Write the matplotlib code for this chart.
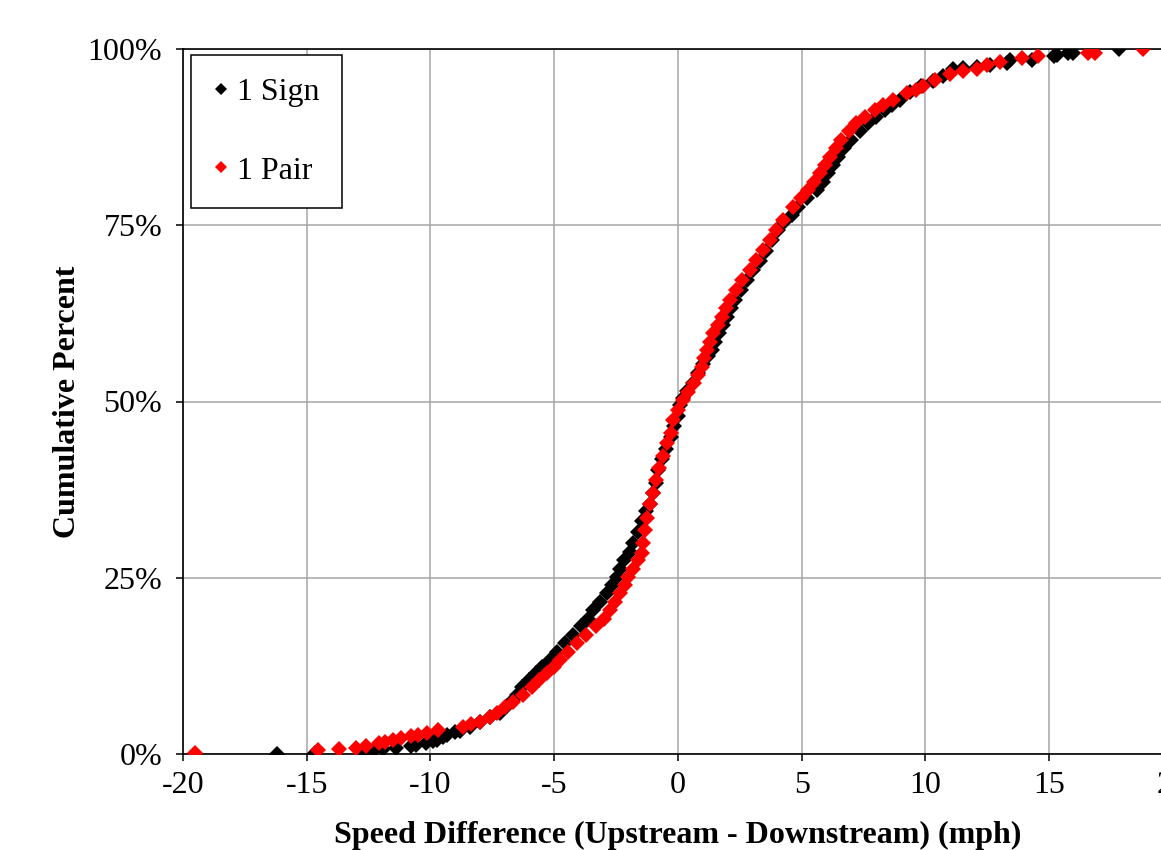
"""Cumulative distribution of speed difference, 1 Sign vs 1 Pair."""

import matplotlib

matplotlib.use("Agg")
import matplotlib.pyplot as plt
from matplotlib.ticker import PercentFormatter

# 1 Sign (black): speed difference (mph) and cumulative percent
sign_x = [
    -16.2, -14.67, -12.7, -12.3, -11.9, -11.4, -10.8, -10.6, -10.2, -9.9,
    -9.75, -9.5, -9.35, -9.0, -8.8, -8.4, -8.0, -7.6, -7.2, -6.9,
    -6.67, -6.5, -6.3, -6.0, -5.75, -5.5, -5.17, -4.9, -4.57, -4.25,
    -3.9, -3.65, -3.42, -3.15, -2.88, -2.68, -2.48, -2.35, -2.2, -1.94,
    -1.8, -1.6, -1.45, -1.3, -1.13, -1.0, -0.9, -0.8, -0.65, -0.5,
    -0.3, -0.15, 0.0, 0.1, 0.2, 0.35, 0.6, 0.8, 1.0, 1.2,
    1.36, 1.5, 1.65, 1.8, 1.97, 2.15, 2.3, 2.55, 2.8, 3.05,
    3.3, 3.55, 3.8, 4.05, 4.3, 4.6, 4.85, 5.2, 5.6, 5.85,
    6.06, 6.25, 6.46, 6.7, 7.0, 7.35, 7.68, 8.0, 8.36, 8.65,
    8.97, 9.37, 9.8, 10.3, 10.7, 11.1, 11.5, 12.07, 12.6, 13.28,
    13.4, 14.3, 15.2, 15.3, 15.76, 15.96, 17.8,
]
sign_pct = [
    0.0, 0.1, 0.3, 0.55, 0.75, 0.9, 1.1, 1.3, 1.55, 1.8,
    2.0, 2.4, 2.7, 3.1, 3.3, 3.9, 4.6, 5.2, 5.8, 6.8,
    7.7, 8.4, 9.5, 10.5, 11.5, 12.4, 13.3, 14.5, 15.7, 16.9,
    18.1, 19.2, 20.4, 21.6, 22.8, 24.0, 25.1, 26.3, 27.5, 28.7,
    30.0, 31.5, 33.0, 34.5, 35.5, 37.0, 38.5, 40.3, 41.8, 43.3,
    45.0, 46.5, 48.0, 49.5, 50.5, 51.5, 52.6, 54.0, 55.3, 56.5,
    57.3, 58.5, 59.7, 60.9, 62.0, 63.2, 64.4, 65.8, 67.2, 68.6,
    70.0, 71.4, 72.9, 74.3, 75.5, 76.5, 77.6, 78.8, 80.0, 81.2,
    82.4, 83.5, 84.7, 85.9, 87.1, 88.3, 89.5, 90.4, 91.3, 92.0,
    92.8, 93.9, 94.8, 95.5, 96.1, 97.1, 97.3, 97.5, 97.8, 98.0,
    98.4, 98.5, 99.0, 99.1, 99.4, 99.5, 100.0,
]

# 1 Pair (red)
pair_x = [
    -19.5, -14.55, -13.7, -13.0, -12.6, -12.1, -11.85, -11.5, -11.2, -10.8,
    -10.5, -10.15, -9.7, -8.7, -8.35, -8.0, -7.6, -7.3, -7.0, -6.67,
    -6.25, -5.9, -5.6, -5.3, -5.0, -4.77, -4.45, -4.1, -3.7, -3.3,
    -3.0, -2.75, -2.55, -2.34, -2.15, -2.0, -1.8, -1.6, -1.47, -1.4,
    -1.33, -1.25, -1.13, -1.0, -0.87, -0.75, -0.6, -0.46, -0.3, -0.2,
    0.0, 0.2, 0.4, 0.63, 0.8, 0.96, 1.06, 1.16, 1.3, 1.43,
    1.6, 1.76, 1.95, 2.1, 2.35, 2.6, 2.9, 3.15, 3.45, 3.7,
    3.95, 4.25, 4.65, 4.95, 5.25, 5.5, 5.74, 5.95, 6.14, 6.4,
    6.6, 6.9, 7.2, 7.55, 7.96, 8.3, 8.7, 9.24, 9.6, 9.9,
    10.4, 11.0, 11.5, 12.07, 12.47, 13.0, 13.9, 14.55, 16.57, 16.85,
    18.8,
]
pair_pct = [
    0.1, 0.5, 0.7, 0.9, 1.2, 1.55, 1.75, 2.0, 2.25, 2.5,
    2.7, 3.0, 3.4, 3.9, 4.3, 4.6, 5.2, 5.8, 6.6, 7.4,
    8.4, 9.5, 10.5, 11.5, 12.3, 13.3, 14.5, 15.7, 16.9, 18.1,
    19.2, 20.4, 21.6, 22.8, 24.0, 25.1, 26.3, 27.5, 28.5, 30.0,
    31.8, 33.5, 35.5, 37.0, 38.9, 40.5, 42.3, 44.1, 45.5, 47.4,
    48.8, 50.2, 51.4, 52.6, 53.8, 54.9, 56.1, 57.3, 58.5, 59.7,
    60.9, 62.0, 63.2, 64.4, 65.8, 67.2, 68.7, 70.1, 71.5, 72.9,
    74.3, 75.7, 77.6, 78.8, 80.0, 81.2, 82.4, 83.5, 84.7, 85.9,
    87.1, 88.3, 89.5, 90.4, 91.3, 92.0, 92.8, 93.7, 94.2, 94.7,
    95.6, 96.5, 96.9, 97.2, 97.7, 98.2, 98.7, 99.0, 99.4, 99.4,
    100.0,
]

x_ticks = [-20, -15, -10, -5, 0, 5, 10, 15, 20]
y_ticks = [0, 25, 50, 75, 100]

plt.rcParams["font.family"] = ["Liberation Serif", "DejaVu Serif"]
plt.rcParams["axes.unicode_minus"] = False

fig = plt.figure(figsize=(11.61, 8.5), dpi=100)
ax = fig.add_axes([183 / 1161, 96 / 850, 990 / 1161, 705 / 850])

ax.plot(sign_x, sign_pct, "D", color="black", markersize=8, markeredgewidth=0,
        label="1 Sign", zorder=3)
ax.plot(pair_x, pair_pct, "D", color="red", markersize=8, markeredgewidth=0,
        label="1 Pair", zorder=4)

ax.set_xlim(-20, 20)
ax.set_ylim(0, 100)
ax.set_xticks(x_ticks)
ax.set_yticks(y_ticks)
ax.yaxis.set_major_formatter(PercentFormatter(decimals=0))
ax.grid(True, color="#a6a6a6", linewidth=1.1)
ax.set_axisbelow(True)
for side in ["left", "bottom", "top"]:
    ax.spines[side].set_color("black")
    ax.spines[side].set_linewidth(1.2)
ax.tick_params(direction="out", length=5, width=1.1, labelsize=23, pad=7)
ax.tick_params(axis="y", pad=10)

fig.text(678 / 1161, 1 - 835 / 850, "Speed Difference (Upstream - Downstream) (mph)",
         ha="center", va="center", fontsize=23, fontweight="bold")
fig.text(68 / 1161, 1 - 402 / 850, "Cumulative Percent", rotation=90,
         ha="center", va="center", fontsize=23, fontweight="bold")

leg = ax.legend(loc="upper left", bbox_to_anchor=(0.008, 0.9915), borderaxespad=0,
                fontsize=23, frameon=True, fancybox=False, framealpha=1,
                edgecolor="black", labelspacing=1.55, handlelength=0.5,
                handletextpad=0.25, borderpad=0.7, markerscale=0.75)
leg.get_frame().set_linewidth(1.1)

plt.savefig("out.png", dpi=100)
